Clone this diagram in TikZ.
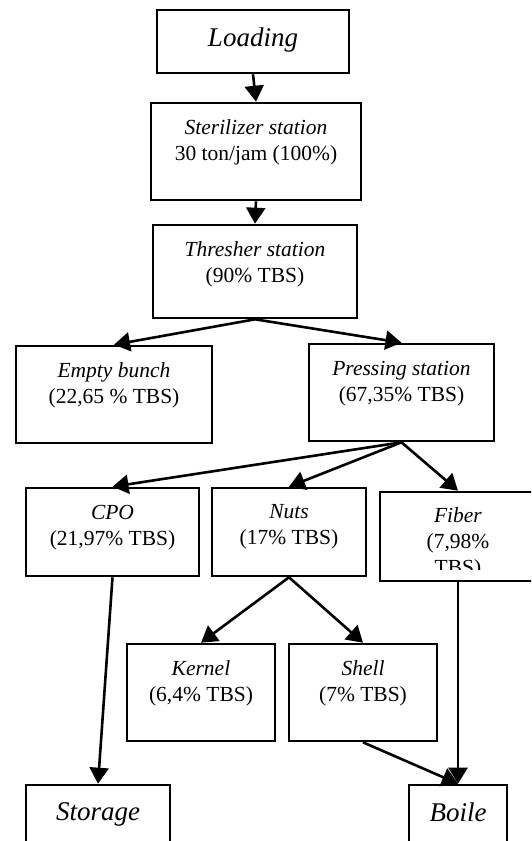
\documentclass[tikz,border=0pt]{standalone}
\usepackage{fontspec}
\setmainfont{Liberation Serif}
\usetikzlibrary{positioning, arrows.meta}

\tikzset{
    boxtext/.style={anchor=north, yshift=-16pt, align=center, inner sep=2pt, font=\fontsize{21.5}{26}\selectfont},
    bigtext/.style={boxtext, yshift=-1pt, font=\fontsize{27}{32}\selectfont\itshape},
    stbox/.style={draw, line width=2.6pt, label={[boxtext]north:#1}},
    bigbox/.style={draw, line width=2.6pt, label={[bigtext]north:#1}},
    flow/.style={line width=2.6pt, -{Triangle[width=19pt,length=16pt]}}
}

\begin{document}
\begin{tikzpicture}[x=1pt, y=-1pt]
    \useasboundingbox (0,0) rectangle (531,841);
    \clip (0,0) rectangle (531,841);
    \node[bigbox={Loading}, minimum width=192pt, minimum height=63pt] (load) at (253,41.5) {};
    \node[stbox={\textit{Sterilizer station}\\30 ton/jam (100\%)}, minimum width=210pt, minimum height=97pt] (steril) at (256,151.5) {};
    \node[stbox={\textit{Thresher station}\\(90\% TBS)}, minimum width=204pt, minimum height=93pt] (thresh) at (255,271.5) {};
    \node[stbox={\textit{Empty bunch}\\(22,65 \% TBS)}, minimum width=196pt, minimum height=97pt] (bunch) at (114,394.5) {};
    \node[stbox={\textit{Pressing station}\\(67,35\% TBS)}, minimum width=185pt, minimum height=97pt] (press) at (401.5,392.5) {};
    \node[stbox={\textit{CPO}\\(21,97\% TBS)}, minimum width=173pt, minimum height=88pt] (cpo) at (112.5,532) {};
    \node[stbox={\textit{Nuts}\\(17\% TBS)}, minimum width=154pt, minimum height=88pt] (nuts) at (289,532) {};
    \node[draw, line width=2.6pt, minimum width=156pt, minimum height=89pt] (fiber) at (458,536.5) {};
    % text of the fiber box is cut off at the bottom
    \begin{scope}
        \clip (380,492) rectangle (536,569);
        \node[boxtext, yshift=1pt] (fibert) at (fiber.north) {\textit{Fiber}\\(7,98\%\\TBS)};
    \end{scope}
    \node[stbox={\textit{Kernel}\\(6,4\% TBS)}, minimum width=148pt, minimum height=97pt] (kernel) at (201,692.5) {};
    \node[stbox={\textit{Shell}\\(7\% TBS)}, minimum width=148pt, minimum height=97pt] (shell) at (363,692.5) {};
    \node[bigbox={Storage}, minimum width=144pt, minimum height=84pt] (store) at (98,827) {};
    \node[bigbox={Boile}, minimum width=98pt, minimum height=84pt] (boil) at (458,827) {};

    \draw[flow] (load.south)   -- (steril.north);
    \draw[flow] (steril.south) -- (thresh.north);
    \draw[flow] (thresh.south) -- (bunch.north);
    \draw[flow] (thresh.south) -- (press.north);
    \draw[flow] (press.south)  -- (cpo.north);
    \draw[flow] (press.south)  -- (nuts.north);
    \draw[flow] (press.south)  -- (fiber.north);
    \draw[flow] (nuts.south)   -- (kernel.north);
    \draw[flow] (nuts.south)   -- (shell.north);
    \draw[flow] (cpo.south)    -- (store.north);
    \draw[flow] (fiber.south)  -- (boil.north);
    \draw[flow] (shell.south)  -- (boil.north);
\end{tikzpicture}
\end{document}
